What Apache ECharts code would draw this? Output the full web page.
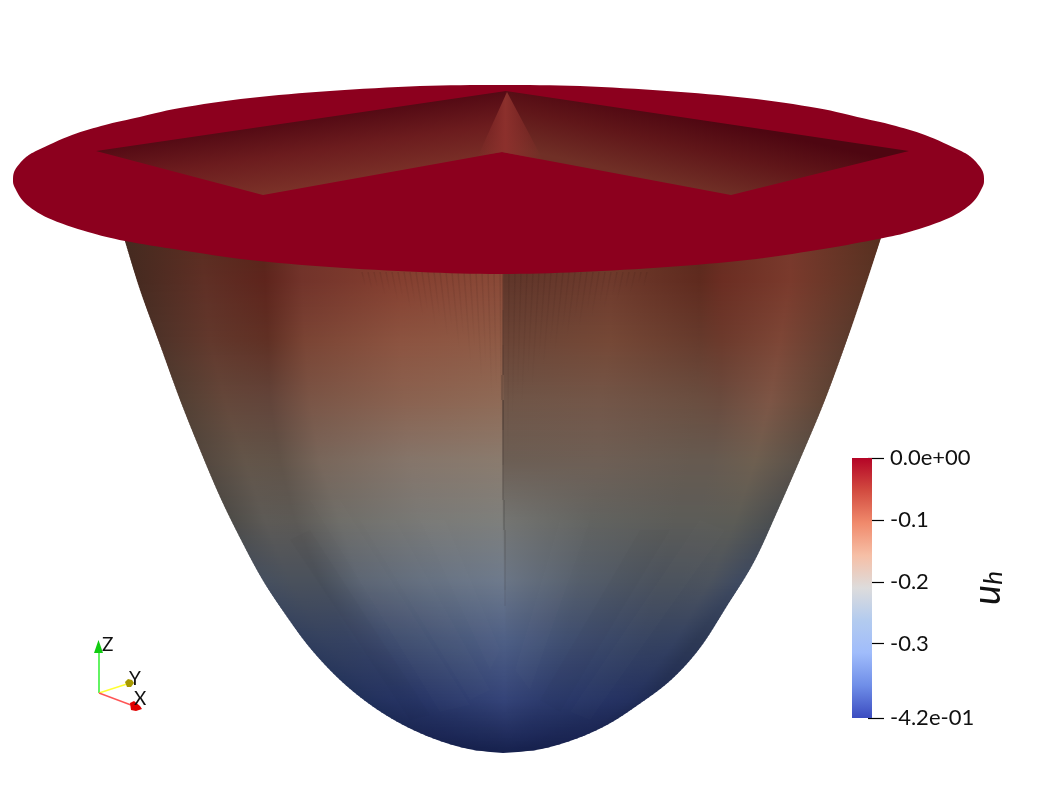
<!DOCTYPE html>
<html><head><meta charset="utf-8">
<style>html,body{margin:0;padding:0;background:#fff}#c{width:1057px;height:793px}</style>
<script src="https://cdn.jsdelivr.net/npm/echarts@6/dist/echarts.min.js"></script>
</head><body><div id="c"></div>
<script>
// colour bar
const tickValues=[0,-0.1,-0.2,-0.3,-0.42];
const tickLabels=['0.0e+00','-0.1','-0.2','-0.3','-4.2e-01'];
const barColorStops=[[0,'#b40426'],[0.125,'#d24b40'],[0.25,'#f08a6c'],[0.375,'#f6bfa6'],[0.5,'#dddcdc'],[0.625,'#b3cbef'],[0.75,'#a0bcfb'],[0.875,'#6f8ee8'],[1,'#3b4cc0']];
// bowl silhouette, read in picture units
const leftEdge=[[124,238],[140,290],[160,345],[180,400],[200,450],[220,497],[240,538],[262,579],[285,614],[310,648],[340,680],[372,706],[405,726],[440,741],[473,750],[503,753]];
const rightEdge=[[881,238],[864,290],[847,340],[825,400],[802,455],[778,510],[754,562],[727,606],[700,648],[671,680],[638,705],[607,725],[573,740],[537,750],[503,753]];
// shading table of the bowl surface
const rowY=[238,280,340,400,460,520,580,640,700,735,753];
const rowX=[
[125,200,262,300,400,503,505,610,700,722,790,880],
[133,205,265,302,400,502,504,610,700,722,790,872],
[155,210,268,305,400,502,504,610,700,722,780,850],
[180,225,270,310,405,502,504,600,695,720,770,825],
[206,245,280,320,410,502,504,600,690,712,755,800],
[232,265,295,340,420,502,504,590,675,695,735,772],
[250,290,320,360,430,503,506,580,660,680,710,738],
[295,325,350,390,450,505,507,565,640,655,675,695],
[362,385,410,440,480,505,508,545,600,615,630,648],
[420,435,450,470,495,506,508,525,550,565,580,592],
[495,497,499,502,505,507,508,511,514,516,518,520]];
const rowColor=[
['#452a20','#5b2c20','#56261a','#70342a','#803c2c','#86442f','#5c3024','#6e3828','#5c281c','#682c20','#78382c','#583020'],
['#452a20','#5f2f25','#5e241c','#72332a','#853f30','#8a4a38','#5f362a','#6f3a2c','#5f2a1e','#6b2d22','#7a3a2c','#5a3424'],
['#4d3228','#62382c','#603024','#7a4434','#8c5340','#8f5a45','#6a4436','#754836','#663a2c','#6c3a2c','#7d4636','#5a3a2d'],
['#523f33','#64473a','#62443a','#7a5546','#8a6250','#8f6a56','#6f5547','#735648','#6a4e40','#6a4b3e','#7d5545','#5f4435'],
['#54483f','#635549','#615348','#78665a','#85756a','#8a7b6e','#6c5e54','#6e5f55','#665a50','#665a50','#6e5f50','#5a5048'],
['#4e4c48','#5d5a56','#5c5955','#6e6d68','#797976','#7e7f7c','#747572','#626360','#5c5c58','#5c5c58','#5c5c56','#4b4e50'],
['#434e60','#4a515c','#4a515c','#5c6573','#667181','#6e7a8c','#6a7585','#555e6b','#4a515c','#4a515c','#4c535e','#3f4a60'],
['#2f3d5c','#34415f','#354262','#3e4c6e','#475779','#4e5f85','#4d5e84','#3f4e70','#364362','#354260','#344160','#2d3955'],
['#20305a','#243260','#263464','#2a386a','#303f72','#344378','#334276','#2c3a6c','#263464','#253262','#23305e','#1f2b54'],
['#1a2552','#1b2654','#1c2756','#1d2958','#1f2b5a','#202c5c','#202c5c','#1e2a5a','#1c2756','#1b2654','#1b2554','#1a2450'],
['#15204c','#15204c','#15204c','#15204c','#15204c','#15204c','#15204c','#15204c','#15204c','#15204c','#15204c','#15204c']];
// faint flat facets in the lower bowl, white or black veil
const facetPolys=[
[[310,500],[340,500],[470,705],[440,712]],
[[360,520],[395,520],[490,690],[470,700]],
[[420,520],[445,520],[500,650],[490,670]],
[[290,540],[310,530],[430,715],[410,720]],
[[560,520],[590,520],[530,690],[515,670]],
[[640,530],[670,530],[560,712],[540,700]],
[[700,520],[725,530],[590,720],[570,712]]];
const facetFill=['rgba(255,255,255,0.012)','rgba(255,255,255,0.012)','rgba(255,255,255,0.012)','rgba(0,0,0,0.015)','rgba(255,255,255,0.01)','rgba(0,0,0,0.015)','rgba(255,255,255,0.01)'];
// dark crease down the middle
const seamX=[503,503,503,502,503,503,503,504,505,505,505];
const seamTop=[273,310,345,375,400,430,465,500,530,560,590];
const seamBottom=[310,345,375,400,430,465,500,530,560,590,606];
const seamAlpha=[0.2,0.35,0.45,0.4,0.6,0.45,0.35,0.3,0.25,0.2,0.12];
// fine vertical ribbing near the crease: top x and how far down it reaches
const ribTopX=[362,368,374,380,386,392,398,404,410,416,422,428,434,440,446,452,458,464,470,476,482,488,494,500,509,515,521,527,533,539,545,551,557,563,569,575,581,587,593,599,605,611,617,623,629,635,641,647];
const ribEndY=[286,290,288,296,292,302,298,310,304,318,312,328,320,340,328,352,338,366,350,384,368,400,390,430,470,420,400,410,380,392,362,372,346,356,332,342,322,330,312,318,304,310,296,302,290,294,284,288];
// flat rim outline
const rimPoints=[[13,180],[15,170],[25,158],[38,150],[72,135],[105,125],[135,118],[180,108],[250,98],[330,91],[420,86],[500,85],[580,86],[667,91],[747,98],[817,108],[862,118],[892,125],[925,135],[959,150],[972,158],[982,170],[984,180],[982,188],[972,203],[949,218],[909,232],[873,240],[817,250],[747,260],[667,267],[580,272],[500,274],[420,272],[330,267],[250,260],[180,250],[125,241],[88,232],[48,218],[25,203],[15,188]];
const rimColor='#8c001e';
// the square opening in the rim
const leftWing=[[96,151],[506,91],[502,152],[263,195]];
const rightWing=[[506,91],[909,151],[731,195],[502,152]];
const ridge=[[507,92],[478,156],[502,152],[543,160]];
// orientation triad
const triadOrigin=[99,693];
const triadTips=[[99,652],[127,684],[131,705]];
const triadHeads=[[[98.5,640],[94,653],[103,653]],[[125,682],[128,679],[132,680],[134,683],[131,687],[127,687]],[[130,703],[134,701],[140,706],[142,709],[136,711],[131,710]]];
const triadLine=['#22ee22','#ffff33','#ff5555'];
const triadFill=['#11cc11','#a89a00','#e00000'];
const triadName=['Z','Y','X'];
const triadLabelPos=[[102,645],[129,679],[134,699]];

function hex(c){return [1,3,5].map(i=>parseInt(c.substr(i,2),16));}
function mix(a,b,t){const p=hex(a),q=hex(b);return 'rgb('+p.map((v,i)=>Math.round(v+(q[i]-v)*t)).join(',')+')';}
// Catmull-Rom rendering of a read outline, so it draws as a curve and not as a chain of chords
function curve(pts,closed){
  const n=pts.length,out=[],P=i=>closed?pts[(i+n)%n]:pts[Math.max(0,Math.min(n-1,i))];
  const last=closed?n:n-1;
  for(let i=0;i<last;i++){
    const a=P(i-1),b=P(i),c=P(i+1),d=P(i+2);
    for(let k=0;k<8;k++){
      const t=k/8,t2=t*t,t3=t2*t;
      out.push([0,1].map(j=>0.5*(2*b[j]+(c[j]-a[j])*t+(2*a[j]-5*b[j]+4*c[j]-d[j])*t2+(3*b[j]-a[j]-3*c[j]+d[j])*t3)));
    }
  }
  if(!closed)out.push(pts[n-1]);
  return out;
}
const leftCurve=curve(leftEdge,false),rightCurve=curve(rightEdge,false);
function edgeAt(c,y){for(let i=0;i<c.length-1;i++){if(y<=c[i+1][1]&&c[i+1][1]>c[i][1]){const u=Math.max(0,(y-c[i][1])/(c[i+1][1]-c[i][1]));return c[i][0]+(c[i+1][0]-c[i][0])*u;}}return c[c.length-1][0];}
const G=()=>echarts.graphic;
const bottomY=753;

function bodyRow(p,api){
  const r=api.value(0),y0=rowY[r],y1=rowY[r+1],kids=[];
  const step=1.5;
  for(let y=y0;y<y1;y+=step){
    const t=(y-y0)/(y1-y0),yb=Math.min(y+step+0.6,bottomY);
    const l=edgeAt(leftCurve,y),rr=edgeAt(rightCurve,y),lb=edgeAt(leftCurve,yb),rb=edgeAt(rightCurve,yb);
    const a=api.coord([l,y]),b=api.coord([rr,y]),c=api.coord([rb,yb]),d=api.coord([lb,yb]);
    const xs=rowX[r].map((x,i)=>x+(rowX[r+1][i]-x)*t);
    const x0=Math.min(xs[0],l),x1=Math.max(xs[11],rr);
    const stops=xs.map((x,i)=>({offset:Math.max(0,Math.min(1,(x-x0)/(x1-x0))),color:mix(rowColor[r][i],rowColor[r+1][i],t)}));
    const px0=api.coord([x0,y])[0],px1=api.coord([x1,y])[0];
    kids.push({type:'polygon',shape:{points:[a,b,c,d]},style:{fill:new (G().LinearGradient)(px0,0,px1,0,stops,true)}});
  }
  return {type:'group',children:kids};
}
function poly(api,pts){return pts.map(q=>api.coord(q));}
function rim(p,api){return {type:'polygon',shape:{points:poly(api,curve(rimPoints,true))},style:{fill:rimColor}};}
function opening(p,api){
  const a=api.coord([290,122]),b=api.coord([300,192]);
  const c=api.coord([720,122]),d=api.coord([705,190]);
  const e=api.coord([478,0]),f=api.coord([543,0]);
  return {type:'group',children:[
    {type:'polygon',shape:{points:poly(api,leftWing)},style:{fill:new (G().LinearGradient)(a[0],a[1],b[0],b[1],[{offset:0,color:'#540a14'},{offset:0.45,color:'#6c1c1e'},{offset:1,color:'#7c3329'}],true)}},
    {type:'polygon',shape:{points:poly(api,rightWing)},style:{fill:new (G().LinearGradient)(c[0],c[1],d[0],d[1],[{offset:0,color:'#4e0611'},{offset:0.45,color:'#601619'},{offset:1,color:'#702f26'}],true)}},
    {type:'polygon',shape:{points:poly(api,ridge)},style:{fill:new (G().LinearGradient)(e[0],0,f[0],0,[{offset:0,color:'rgba(140,48,44,0)'},{offset:0.42,color:'rgba(140,48,44,1)'},{offset:1,color:'rgba(140,48,44,0)'}],true)}}
  ]};
}
function seam(p,api){
  const i=api.value(0);
  const a=api.coord([seamX[i],seamTop[i]]),b=api.coord([seamX[i],seamBottom[i]]);
  return {type:'line',shape:{x1:a[0],y1:a[1],x2:b[0],y2:b[1]},style:{stroke:'rgba(30,25,25,'+seamAlpha[i]+')',lineWidth:1}};
}
function rib(p,api){
  const i=api.value(0),x=ribTopX[i],e=ribEndY[i];
  const lean=(505-x)*0.18*(e-273)/100;
  const a=api.coord([x,272]),b=api.coord([x+lean,e]);
  const g=new (G().LinearGradient)(0,a[1],0,b[1],[{offset:0,color:'rgba(35,12,8,0.11)'},{offset:1,color:'rgba(35,12,8,0)'}],true);
  return {type:'polygon',shape:{points:[[a[0]-0.8,a[1]],[a[0]+0.8,a[1]],[b[0]+0.8,b[1]],[b[0]-0.8,b[1]]]},style:{fill:g}};
}
function facet(p,api){const i=api.value(0);return {type:'polygon',shape:{points:poly(api,facetPolys[i])},style:{fill:facetFill[i]}};}
function triad(p,api){
  const i=api.value(0),o=api.coord(triadOrigin),t=api.coord(triadTips[i]),n=api.coord(triadLabelPos[i]);
  return {type:'group',children:[
    {type:'line',shape:{x1:o[0],y1:o[1],x2:t[0],y2:t[1]},style:{stroke:triadLine[i],lineWidth:1.4}},
    {type:'polygon',shape:{points:poly(api,triadHeads[i])},style:{fill:triadFill[i]}},
    {type:'text',x:n[0],y:n[1],style:{text:triadName[i],fill:'#111',fontSize:19,fontFamily:'Lato',textAlign:'left',textVerticalAlign:'middle'}}
  ]};
}
const idx=a=>a.map((_,i)=>[i]);
const scene={type:'custom',xAxisIndex:0,yAxisIndex:0,clip:false,silent:true};
const chart=echarts.init(document.getElementById('c'),null,{renderer:'canvas'});
chart.setOption({
  animation:false,backgroundColor:'#fff',tooltip:{show:false},
  grid:[{left:0,top:0,width:1057,height:793},{left:852,top:458,width:20,height:260}],
  xAxis:[{gridIndex:0,type:'value',min:0,max:1057,show:false},{gridIndex:1,type:'category',data:['uh'],show:false}],
  yAxis:[{gridIndex:0,type:'value',min:0,max:793,inverse:true,show:false},
    {gridIndex:1,type:'value',min:-0.42,max:0,position:'right',offset:-4,
     splitLine:{show:false},axisLine:{show:false},
     axisTick:{show:true,length:16,lineStyle:{color:'#000',width:1.2},customValues:tickValues},
     axisLabel:{show:true,margin:22,color:'#111',fontFamily:'Lato',fontSize:22,padding:[0,0,9,0],customValues:tickValues,
       formatter:v=>tickLabels[tickValues.findIndex(t=>Math.abs(t-v)<1e-6)]},
     name:'{u|u}{h|h}',nameLocation:'middle',nameRotate:90,nameGap:101,nameMoveOverlap:false,
     nameTextStyle:{rich:{u:{fontFamily:'Lato',fontStyle:'italic',fontSize:38,color:'#111'},h:{fontFamily:'Lato',fontStyle:'italic',fontSize:26,color:'#111',padding:[12,0,0,0]}}}}],
  series:[
   Object.assign({},scene,{data:idx(rowY.slice(0,-1)),renderItem:bodyRow,z:1}),
   Object.assign({},scene,{data:idx(facetPolys),renderItem:facet,z:2}),
   Object.assign({},scene,{data:idx(ribTopX),renderItem:rib,z:2}),
   Object.assign({},scene,{data:idx(seamX),renderItem:seam,z:2}),
   Object.assign({},scene,{data:[[0]],renderItem:rim,z:3}),
   Object.assign({},scene,{data:[[0]],renderItem:opening,z:4}),
   Object.assign({},scene,{data:idx(triadName),renderItem:triad,z:5}),
   {type:'bar',xAxisIndex:1,yAxisIndex:1,barWidth:'100%',silent:true,data:[-0.42],z:5,
    itemStyle:{color:new echarts.graphic.LinearGradient(0,0,0,1,barColorStops.map(s=>({offset:s[0],color:s[1]})))}}
  ]
});
</script></body></html>
